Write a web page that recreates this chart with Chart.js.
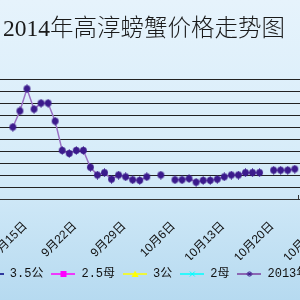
<!DOCTYPE html>
<html>
<head>
<meta charset="utf-8">
<script src="https://cdn.jsdelivr.net/npm/chart.js@4.4.1/dist/chart.umd.min.js"></script>
<style>
  html, body { margin: 0; padding: 0; }
  body {
    width: 300px; height: 300px; overflow: hidden; position: relative;
    background: linear-gradient(to bottom, #e6f3fc 0%, #d6ecf9 55%, #b6daf0 100%);
  }
  /* the reference is a crop of a wider chart, so the canvas sticks out on both sides */
  #wrap { position: absolute; left: -43px; top: 0; width: 375px; height: 300px; }
</style>
</head>
<body>
<div id="wrap"><canvas id="chart"></canvas></div>
<script>
// one category per day
const days = [
  '9月9日', '9月10日', '9月11日', '9月12日', '9月13日', '9月14日', '9月15日',
  '9月16日', '9月17日', '9月18日', '9月19日', '9月20日', '9月21日', '9月22日',
  '9月23日', '9月24日', '9月25日', '9月26日', '9月27日', '9月28日', '9月29日',
  '9月30日', '10月1日', '10月2日', '10月3日', '10月4日', '10月5日', '10月6日',
  '10月7日', '10月8日', '10月9日', '10月10日', '10月11日', '10月12日', '10月13日',
  '10月14日', '10月15日', '10月16日', '10月17日', '10月18日', '10月19日', '10月20日',
  '10月21日', '10月22日', '10月23日', '10月24日', '10月25日', '10月26日', '10月27日'
];

// only the 2013 line is visible in this part of the chart
const price2013 = [
  null, null, null, null, 120, 147, 184,
  150, 160, 160, 130, 81, 76, 81,
  81, 53, 40, 44, 33, 40, 37,
  32, 31, 37, null, 40, null, 32,
  32, 34, 28, 31, 31, 33, 37,
  40, 40, 44, 44, 44, null, 48,
  48, 48, 50, null, null, null, null
];
const gong35 = [];
const mu25 = [];
const gong3 = [];
const mu2 = [];

const seriesNames = ['3.5公', '2.5母', '3公', '2母', '2013年'];
const yMin = 0, yMax = 200, yStep = 20;

function legendIcon(lineColor, markColor, mark) {
  const c = document.createElement('canvas');
  c.width = 24; c.height = 12;
  const g = c.getContext('2d');
  g.strokeStyle = lineColor; g.lineWidth = 1.5;
  g.beginPath(); g.moveTo(0, 6); g.lineTo(24, 6); g.stroke();
  g.fillStyle = markColor; g.strokeStyle = markColor; g.lineWidth = 1;
  g.beginPath();
  if (mark === 'diamond') {
    g.moveTo(12, 2.5); g.lineTo(15.5, 6); g.lineTo(12, 9.5); g.lineTo(8.5, 6); g.closePath(); g.fill();
  } else if (mark === 'square') {
    g.fillRect(9, 3, 6, 6);
  } else if (mark === 'triangle') {
    g.moveTo(12, 2.5); g.lineTo(15.5, 9); g.lineTo(8.5, 9); g.closePath(); g.fill();
  } else if (mark === 'cross') {
    g.moveTo(9.5, 3.5); g.lineTo(14.5, 8.5); g.moveTo(14.5, 3.5); g.lineTo(9.5, 8.5); g.stroke();
  } else {
    g.moveTo(9, 6); g.lineTo(15, 6); g.moveTo(12, 3); g.lineTo(12, 9);
    g.moveTo(10, 4); g.lineTo(14, 8); g.moveTo(14, 4); g.lineTo(10, 8); g.stroke();
  }
  return c;
}

function dotMarker() {
  const c = document.createElement('canvas');
  c.width = 9; c.height = 9;
  const g = c.getContext('2d');
  g.fillStyle = '#3b1a8c'; g.strokeStyle = '#3b1a8c'; g.lineWidth = 1;
  g.beginPath(); g.arc(4.5, 4.5, 3.4, 0, Math.PI * 2); g.fill();
  g.beginPath();
  g.moveTo(4.5, 0.3); g.lineTo(4.5, 8.7);
  g.stroke();
  return c;
}

const icons = [
  legendIcon('#000080', '#000080', 'diamond'),
  legendIcon('#ff00ff', '#ff00ff', 'square'),
  legendIcon('#ffff00', '#ffff00', 'triangle'),
  legendIcon('#00ffff', '#00ffff', 'cross'),
  legendIcon('#7b3f9e', '#3b1a8c', 'star')
];

const isWeek = i => (i - 6) % 7 === 0;

new Chart(document.getElementById('chart'), {
  type: 'line',
  data: {
    labels: days,
    datasets: [
      { label: seriesNames[0], data: gong35, borderColor: '#000080' },
      { label: seriesNames[1], data: mu25, borderColor: '#ff00ff' },
      { label: seriesNames[2], data: gong3, borderColor: '#ffff00' },
      { label: seriesNames[3], data: mu2, borderColor: '#00ffff' },
      {
        label: seriesNames[4], data: price2013,
        borderColor: '#9a70c4', borderWidth: 1.5,
        pointStyle: dotMarker(), pointRadius: 4,
        spanGaps: false, tension: 0
      }
    ]
  },
  options: {
    responsive: true,
    maintainAspectRatio: false,
    animation: false,
    layout: { padding: { left: 0, right: 0.857, top: 0, bottom: 10 } },
    plugins: {
      title: {
        display: true,
        text: '2014年高淳螃蟹价格走势图',
        color: '#1a1a1a',
        font: { family: "'Liberation Serif', 'Noto Sans CJK SC'", size: 23.5, weight: 300 },
        padding: { top: 16, bottom: 35 }
      },
      legend: {
        position: 'bottom',
        labels: {
          usePointStyle: true,
          pointStyleWidth: 24,
          padding: 8,
          color: '#111',
          font: { family: "'Liberation Mono', 'Noto Sans CJK SC'", size: 12 },
          generateLabels: chart => chart.data.datasets.map((ds, i) => ({
            text: ds.label,
            pointStyle: icons[i],
            fontColor: '#111',
            fillStyle: 'transparent',
            strokeStyle: 'transparent',
            lineWidth: 0,
            hidden: false,
            datasetIndex: i
          }))
        }
      },
      tooltip: { enabled: false }
    },
    scales: {
      x: {
        offset: true,
        grid: {
          offset: true,
          drawOnChartArea: false,
          tickLength: -4,
          color: ctx => (isWeek(ctx.index) ? '#333' : 'rgba(0,0,0,0)')
        },
        border: { display: true, color: '#333', width: 1 },
        ticks: {
          autoSkip: false,
          minRotation: 45,
          maxRotation: 45,
          padding: 24,
          labelOffset: -1.5,
          color: '#111',
          font: { family: "'Liberation Sans', 'Noto Sans CJK SC'", size: 12 },
          callback: (value, index) => (isWeek(index) ? days[index] : null)
        },
        afterFit: scale => {
          scale.height = 61;
          scale.paddingLeft = 0;
          scale.paddingRight = 0;
        }
      },
      y: {
        min: yMin,
        max: yMax,
        grid: { color: '#222', lineWidth: 1, drawTicks: false },
        border: { display: false },
        ticks: { display: false, stepSize: yStep },
        afterFit: scale => { scale.width = 24.143; }
      }
    }
  }
});
</script>
</body>
</html>
